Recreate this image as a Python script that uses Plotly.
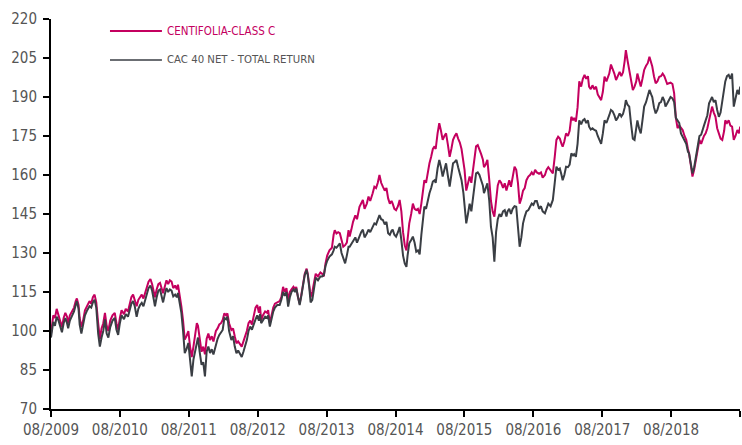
import pandas as pd
import plotly.graph_objects as go

# months elapsed since 1 Aug 2009 for each reading
months = [
0.0,0.2,0.4,0.7,1.0,1.3,1.6,1.9,2.2,2.5,2.8,3.0,3.3,3.6,4.0,4.3,4.5,4.8,5.0,5.3,5.6,5.9,6.3,6.7,7.0,7.3,7.6,7.9,
8.2,8.5,8.8,9.1,9.4,9.7,10.0,10.3,10.7,11.1,11.4,11.7,12.0,12.3,12.7,13.0,13.4,13.7,14.0,14.3,14.6,14.9,15.2,15.5,
15.8,16.1,16.4,16.7,17.0,17.3,17.6,17.9,18.1,18.4,18.7,19.0,19.3,19.5,19.8,20.1,20.4,20.7,21.0,21.3,21.6,21.9,22.1,
22.4,22.7,23.0,23.3,23.6,23.9,24.2,24.5,24.8,25.1,25.4,25.6,25.9,26.2,26.5,26.8,27.1,27.4,27.7,28.0,28.3,28.7,29.0,
29.3,29.6,29.9,30.2,30.5,30.7,31.0,31.4,31.7,32.0,32.3,32.6,32.9,33.2,33.5,33.8,34.1,34.4,34.7,35.0,35.3,35.6,35.9,
36.2,36.4,36.6,36.9,37.3,37.6,37.8,38.1,38.4,38.7,39.0,39.4,39.8,40.1,40.4,40.7,41.0,41.3,41.6,41.9,42.2,42.5,42.7,
43.0,43.3,43.6,43.9,44.2,44.5,44.7,45.0,45.2,45.5,45.8,46.1,46.5,46.9,47.2,47.5,47.8,48.1,48.5,48.9,49.2,49.4,49.7,
50.0,50.3,50.6,50.9,51.2,51.5,51.8,52.0,52.3,52.6,53.0,53.3,53.7,54.0,54.3,54.6,55.0,55.3,55.6,56.0,56.3,56.6,56.9,
57.2,57.5,57.8,58.1,58.4,58.7,59.0,59.3,59.5,59.8,60.1,60.4,60.7,61.0,61.3,61.6,61.9,62.1,62.4,62.7,63.0,63.3,63.6,
63.9,64.2,64.5,64.8,65.0,65.3,65.6,65.9,66.2,66.5,66.8,67.0,67.3,67.6,67.9,68.2,68.5,68.8,69.1,69.4,69.7,70.0,70.3,
70.6,70.9,71.2,71.5,71.8,72.0,72.3,72.6,72.9,73.2,73.4,73.7,74.0,74.3,74.6,74.9,75.2,75.4,75.7,76.0,76.3,76.6,76.9,
77.2,77.5,77.8,78.1,78.4,78.7,79.0,79.3,79.5,79.8,80.1,80.4,80.7,81.0,81.3,81.6,81.9,82.2,82.5,82.8,83.1,83.4,83.7,
84.0,84.3,84.6,85.0,85.3,85.6,86.0,86.3,86.6,87.0,87.4,87.7,88.0,88.3,88.6,88.9,89.1,89.4,89.7,90.0,90.3,90.6,90.9,
91.1,91.4,91.7,92.0,92.3,92.6,92.9,93.2,93.5,93.7,94.0,94.3,94.6,94.9,95.2,95.5,95.8,96.1,96.4,96.7,96.9,97.2,97.5,
97.8,98.1,98.4,98.7,99.0,99.3,99.6,99.9,100.1,100.4,100.7,101.0,101.3,101.6,101.9,102.1,102.4,102.7,103.0,103.3,
103.6,103.9,104.2,104.5,104.7,105.0,105.3,105.6,105.9,106.2,106.5,106.8,107.0,107.3,107.6,107.9,108.2,108.5,108.8,
109.1,109.4,109.7,110.0,110.3,110.6,110.9,111.1,111.4,111.7,112.0,112.3,112.6,112.9,113.2,113.4,113.7,114.0,114.3,
114.6,114.9,115.1,115.4,115.7,116.0,116.3,116.6,116.9,117.2,117.4,117.7,118.0,118.3,118.6,118.9,119.2,119.5,119.8,120.0,
]

centifolia = [
99,103,106,105,108.5,106,104,101.5,105,107,105.5,103,106,107.5,109,111.5,112.5,110,105,101.5,104,108,110,111.5,110.5,113,114,111,
103,97,101,103,107,102,100,104,106,107,103,100.5,105,108,106.5,108.5,107.5,111,113,114,112,109.5,112,113,
114,112.5,115,117,119,120,118,115,113,116,118,118.5,116,114.5,117,119.5,118,119.5,119,116.5,117.5,116,117.8,
114,109.5,104,96.7,98,100,94,90,94,98,103,102,97,92,94,91,97,99,96.5,98,96,100,101,
102.5,103,104.2,106.8,106,106.8,103,100.4,101,98,95.3,96,95,94,96,97.8,100,103,104,102.5,106,109,110,
107,109.5,104,106,107.5,107,108,103,106,109,110.5,111,111.5,113,117,115,116.5,112,115,116,117,116,117,
113,110.6,114,119,122,124,122,117,113,115,118,122,121,122.5,122,121,126,129,131,132,137,138.8,137.5,
138,137.6,135,132.4,133,134,138.8,136.3,139,142,144.5,143,147.8,149,150.4,147,149,151.7,150,153,155.5,155,157,
160,157,155.5,154,155,151,149,150,149,147,146.5,148,150.4,146,138,133,131,136,141.4,145,149,147,146.5,
147,145,149,155,158,157,161,164.5,167,170,171,170,176,179.9,177,173.5,175,176,172,167,170,173.5,175,
176,174,172.5,170,166,162,154,157,159.4,157,160,166,171,171.5,170,168,166,163,164,165.8,158,150,146,
144,150,156,158,157,155,156.8,154,156,158,155.5,160,163.2,162,157,149,151,154,155,158,159.4,160,161,
160,162,161,160.5,161,159,160,162,163,162,160.6,167,173.5,174.7,174,172,170.9,173,176,175,177,182.4,181,
182,180.5,186,196,194,197,198.5,197,198,194,193,194.5,193,194,191,190,188.8,192,197.8,196,197,199,202.5,
201,199,196.5,198,199.7,198,199.5,204,208,204,200.4,196,192.7,194,196,199,196,194,197,200.4,
202,203,205.5,203,201.7,198,195.3,196,197.8,198,199,198,196.5,195,195.3,195.5,195,191.4,182,
178,179,178,177.3,175,173.5,170,168.3,164,159.4,162,165.8,169,173.5,172,173.5,175,176,178,
181,184,186.3,184,182.4,178,176,174,173.5,177,181,180,181,179,178.6,173.5,175,177.3,176,178.6,
]

cac40_net = [
97.5,101,103.5,102,105.5,104,101.5,99.5,103,105,103,101,104,105.5,107.5,110,111.5,108.5,102.5,99,102,106,108,109.5,109,111,112,109,
99,94,97.5,100,104.5,99,97.5,101.5,104,105,100.5,98.5,103,106,104.5,106.5,105.5,108.5,110.5,111.5,109.5,105.5,108.5,110,
110.8,109.5,112,114.5,116.5,117.5,115.5,112,109.5,113,115.5,116,113,111,114,116.5,115,116,115.5,113.3,114,113,114.6,
111,107,100,91.5,93,95.4,89,82.5,89,92,96,97.5,92,87,88,82.5,92,94,91.5,93,91,95,97,
98.5,99.5,100.4,105,104.5,105.5,100,96.5,98,94,91.4,92.5,91,90,92,94,96.5,100,101.7,100.5,103,104.5,106,
104,106.5,103,104,105.5,105,106,101.7,105,107.5,109,110,110,112,115,113.5,115,109.4,113,115,116,115,116.4,
112.5,110,113.5,118.5,121.5,123.5,121.5,116,111,112,117,120.5,119.5,121,121,121.5,125,127,128.6,129.5,131,132.4,132,
133,133.7,130,128,126,129,132.4,132.4,133.5,135,136,134,136.5,138,139,136,137.5,139,138,140,141.4,141,143,
144.6,143,142.7,141,142,137.6,137,138.5,139,137,136.3,138,140,135,129,126,124.7,129,133.7,135,136.3,134,130.5,
131,129.5,137,145,147.8,147,150.5,153,155,157.5,158,157,162.5,165.8,163,159.4,162,164.5,160,155.5,160,164.5,165,
165.8,163,160,158,153,149,141.4,145,149,146,150,156,160.6,161,160,158,156,153,155,156.8,150,140,136,
126.7,138,143,145,144,146,146.5,144,146,147,145,147,148,147.8,140,132.4,136,141.4,144,146,146.5,148,149,
148.5,150,150,147,148,146,145.3,147,149,148,150.4,157,163.2,162,162.5,160,158,160,163.2,163,164,168.3,167.5,
168,167,172,181,179.5,181,181.5,180,181,178.6,177.5,178,177.3,177,175,173.5,172,176,181,180,181,183,185,
184.5,183,181,182,183.7,182.5,183.5,186,188.8,187,186.3,180,174,173.5,178,181,178,176,181,186.3,
188,190,192.7,191,190,186,183.7,185,187.6,188,190,188.5,186.3,187.5,189,190,189.5,188,182,
181,180,176,174.7,173,172,169,168.3,164.5,160.6,163,167,171,175,175.5,177.3,179,181,183,
187.6,189,190,188,188.8,185,182.4,184,188.8,193,196,198,198.5,197,199,186.3,190,192.7,191,194,
]

tick_dates = ["2009-08-01","2010-08-01","2011-08-01","2012-08-01","2013-08-01","2014-08-01",
              "2015-08-01","2016-08-01","2017-08-01","2018-08-01","2019-08-01"]
tick_labels = ["08/2009","08/2010","08/2011","08/2012","08/2013","08/2014",
               "08/2015","08/2016","08/2017","08/2018",""]
y_ticks = [70,85,100,115,130,145,160,175,190,205,220]
series_names = ["CENTIFOLIA-CLASS C","CAC 40 NET - TOTAL RETURN"]

start = pd.Timestamp("2009-08-01")
dates = [start + pd.Timedelta(days=round(m * 30.44)) for m in months]

PINK = "#C4005F"
DARK = "#3A3E44"
FONT = "DejaVu Sans Condensed, Liberation Sans Narrow, sans-serif"
TXT = "#555555"

fig = go.Figure()
fig.add_trace(go.Scatter(x=dates, y=centifolia, mode="lines", name=series_names[0],
                         line=dict(color=PINK, width=2)))
fig.add_trace(go.Scatter(x=dates, y=cac40_net, mode="lines", name=series_names[1],
                         line=dict(color=DARK, width=2)))

# legend drawn at top-left
legend_rows = [(0.969, PINK, PINK, 2, 11.5), (0.895, DARK, TXT, 1.5, 11.3)]
for (yy, lc, tc, lw, fs), name in zip(legend_rows, series_names):
    fig.add_shape(type="line", xref="paper", yref="paper", x0=0.0856, x1=0.161, y0=yy, y1=yy,
                  line=dict(color=lc, width=lw))
    fig.add_annotation(xref="paper", yref="paper", x=0.166, y=yy, text=name, showarrow=False,
                       xanchor="left", yanchor="middle", font=dict(family=FONT, size=fs, color=tc))

fig.update_layout(
    width=742, height=445,
    margin=dict(l=51, r=2, t=19, b=36),
    paper_bgcolor="white", plot_bgcolor="white",
    showlegend=False,
    font=dict(family=FONT, size=15, color=TXT),
)
fig.update_xaxes(type="date", range=[tick_dates[0], tick_dates[-1]], tickvals=tick_dates,
                 ticktext=tick_labels, showgrid=False, zeroline=False, showline=True,
                 linecolor="black", linewidth=2, ticks="outside", ticklen=6, tickwidth=2,
                 tickcolor="black", automargin=False,
                 tickfont=dict(family=FONT, size=15, color=TXT))
fig.update_yaxes(range=[70, 220], tickvals=y_ticks, showgrid=False, zeroline=False,
                 showline=True, linecolor="black", linewidth=2, ticks="outside", ticklen=6,
                 tickwidth=2, tickcolor="black", automargin=False, ticklabelstandoff=3,
                 tickfont=dict(family=FONT, size=15, color=TXT))

fig.write_html("out.html", config={"displayModeBar": False},
               post_script="document.body.style.margin='0';")
